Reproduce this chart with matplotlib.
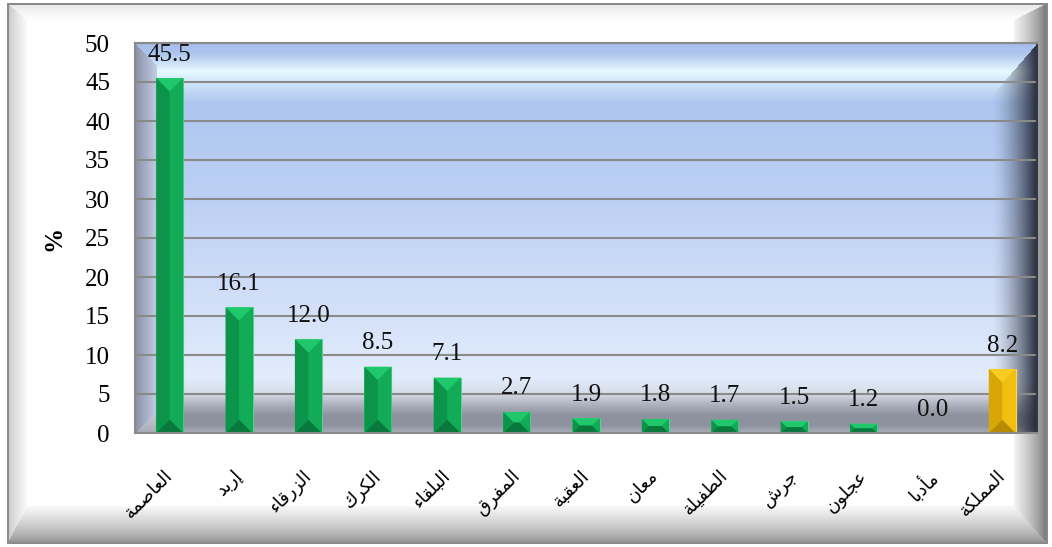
import numpy as np
import matplotlib
matplotlib.use("Agg")
import matplotlib.pyplot as plt
from matplotlib.patches import Polygon
from matplotlib.colors import to_rgb
from matplotlib.transforms import ScaledTranslation

governorates = ["العاصمة", "إربد", "الزرقاء", "الكرك", "البلقاء", "المفرق", "العقبة",
                "معان", "الطفيلة", "جرش", "عجلون", "مأدبا", "المملكة"]
shares = [45.5, 16.1, 12.0, 8.5, 7.1, 2.7, 1.9, 1.8, 1.7, 1.5, 1.2, 0.0, 8.2]
y_ticks = list(range(0, 51, 5))

W, H = 1052, 547

# isolated, final, initial, medial presentation forms
FORMS = {
    "ء": ("\uFE80", None, None, None),
    "أ": ("\uFE83", "\uFE84", None, None),
    "إ": ("\uFE87", "\uFE88", None, None),
    "ا": ("\uFE8D", "\uFE8E", None, None),
    "ب": ("\uFE8F", "\uFE90", "\uFE91", "\uFE92"),
    "ة": ("\uFE93", "\uFE94", None, None),
    "ج": ("\uFE9D", "\uFE9E", "\uFE9F", "\uFEA0"),
    "د": ("\uFEA9", "\uFEAA", None, None),
    "ر": ("\uFEAD", "\uFEAE", None, None),
    "ز": ("\uFEAF", "\uFEB0", None, None),
    "ش": ("\uFEB5", "\uFEB6", "\uFEB7", "\uFEB8"),
    "ص": ("\uFEB9", "\uFEBA", "\uFEBB", "\uFEBC"),
    "ط": ("\uFEC1", "\uFEC2", "\uFEC3", "\uFEC4"),
    "ع": ("\uFEC9", "\uFECA", "\uFECB", "\uFECC"),
    "ف": ("\uFED1", "\uFED2", "\uFED3", "\uFED4"),
    "ق": ("\uFED5", "\uFED6", "\uFED7", "\uFED8"),
    "ك": ("\uFED9", "\uFEDA", "\uFEDB", "\uFEDC"),
    "ل": ("\uFEDD", "\uFEDE", "\uFEDF", "\uFEE0"),
    "م": ("\uFEE1", "\uFEE2", "\uFEE3", "\uFEE4"),
    "ن": ("\uFEE5", "\uFEE6", "\uFEE7", "\uFEE8"),
    "و": ("\uFEED", "\uFEEE", None, None),
    "ي": ("\uFEF1", "\uFEF2", "\uFEF3", "\uFEF4"),
}
NONE4 = (None, None, None, None)


def shape_arabic(word):
    """Join letters into contextual forms and reverse for left-to-right layout."""
    out = []
    for k, ch in enumerate(word):
        forms = FORMS.get(ch)
        if forms is None:
            out.append(ch)
            continue
        prev = word[k - 1] if k > 0 else None
        nxt = word[k + 1] if k < len(word) - 1 else None
        join_prev = prev is not None and FORMS.get(prev, NONE4)[2] is not None and forms[1] is not None
        join_next = nxt is not None and forms[2] is not None and FORMS.get(nxt, NONE4)[1] is not None
        if join_prev and join_next:
            out.append(forms[3])
        elif join_prev:
            out.append(forms[1])
        elif join_next:
            out.append(forms[2])
        else:
            out.append(forms[0])
    return "".join(reversed(out))


def rgb(c):
    return np.array(to_rgb(c))


def frame_image():
    """White card with a bevelled grey border."""
    Y, X = np.mgrid[0:H, 0:W].astype(float)
    x0, x1, y0, y1 = 7, 1047, 3, 543
    dist = np.stack([(X - x0) / 20, (x1 - X) / 34, (Y - y0) / 17, (y1 - Y) / 38])
    side = np.argmin(dist, axis=0)
    t = np.clip(dist.min(axis=0), 0, 1)
    outer = ["#c0c0c0", "#686868", "#e2e2e2", "#888888"]
    inner = ["#fbfbfb", "#f6f6f6", "#ffffff", "#fafafa"]
    img = np.ones((H, W, 3))
    for s in range(4):
        m = (side == s) & (t < 1)
        c0, c1 = rgb(outer[s]), rgb(inner[s])
        img[m] = c0 + (c1 - c0) * (t[m] ** 0.7)[:, None]
    dpx = np.minimum.reduce([X - x0, x1 - X, Y - y0, y1 - Y])
    img[dpx < 0] = 1.0
    img[(dpx >= 0) & (dpx < 1.5)] = rgb("#8a8a8a")
    return img


def wall_image(w=902, h=390):
    """Back wall, side walls and floor of the plot box."""
    yy, xx = np.mgrid[0:h, 0:w].astype(float)
    stops_y = [0, 10, 28, 45, 60, 150, 250, 335, 350, 360, 372, 382, 390]
    stops_c = ["#a4bce8", "#aec6ee", "#e6faff", "#c6dcf8", "#aec6f0", "#bcd0f4", "#d0def8",
               "#e2ecfc", "#d6dce8", "#b2b6c2", "#8e929e", "#8e929e", "#b0b4be"]
    cols = np.array([to_rgb(c) for c in stops_c])
    col = np.stack([np.interp(np.arange(h), stops_y, cols[:, k]) for k in range(3)], axis=-1)
    img = np.repeat(col[:, None, :], w, axis=1)

    # left side wall
    left = (xx < 22) & (yy > xx) & (yy < h - xx)
    c0, c1 = rgb("#8a92a8"), rgb("#c4cee4")
    img[left] = c0 + (c1 - c0) * (xx[left] / 22)[:, None]
    lfloor = (xx < 22) & (yy >= h - xx)
    c0, c1 = rgb("#c8ccd4"), rgb("#a8acb6")
    img[lfloor] = c0 + (c1 - c0) * ((yy[lfloor] - (h - 22)) / 22)[:, None]

    # right side wall
    rx = w - xx
    right = (rx < 46) & (yy > rx * 1.15)
    tr = np.clip(1 - rx / 46, 0, 1) ** 1.5
    dark = rgb("#242a38")
    img[right] = img[right] * (1 - tr[right])[:, None] + dark * tr[right][:, None]
    return img


fig = plt.figure(figsize=(W / 100, H / 100), dpi=100)
bg = fig.add_axes([0, 0, 1, 1])
bg.imshow(frame_image(), aspect="auto", interpolation="bilinear")
bg.set_axis_off()

ax_l, ax_b, ax_w, ax_h = 135, 433, 902, 390
ax = fig.add_axes([ax_l / W, (H - ax_b) / H, ax_w / W, ax_h / H])
n = len(shares)
ax.imshow(wall_image(ax_w, ax_h), extent=(-0.5, n - 0.5, 0, 50), aspect="auto",
          interpolation="bilinear", zorder=0)
ax.set_xlim(-0.5, n - 0.5)
ax.set_ylim(0, 50)

ax.set_yticks(y_ticks)
ax.yaxis.grid(True, color="#8a8a8a", linewidth=1.5)
ax.set_axisbelow("line")

# bars with bevelled faces
x = np.arange(n)
bar_w = 0.39
px_x = ax_w / n
px_y = ax_h / 50.0
green = dict(base="#0fa452", top="#20c86c", left="#0c944a", right="#12ab58", bottom="#08783c", edge="#5cd08e")
gold = dict(base="#edb90c", top="#f8cc22", left="#d8a606", right="#f2be10", bottom="#b88c02", edge="#f8d860")
palettes = [green] * (n - 1) + [gold]

ax.bar(x, shares, bar_w, color=[p["base"] for p in palettes],
       edgecolor=[p["edge"] for p in palettes], linewidth=0.8, zorder=2)

for i, v in enumerate(shares):
    if v <= 0:
        continue
    p = palettes[i]
    x0, x1, y0, y1 = i - bar_w / 2, i + bar_w / 2, 0.0, v
    d = min(bar_w * px_x, v * px_y) / 2
    dx, dy = d / px_x, d / px_y
    xi0, xi1, yi0, yi1 = x0 + dx, x1 - dx, y0 + dy, y1 - dy
    faces = [
        ([(x0, y1), (x1, y1), (xi1, yi1), (xi0, yi1)], p["top"]),
        ([(x0, y0), (x1, y0), (xi1, yi0), (xi0, yi0)], p["bottom"]),
        ([(x0, y0), (xi0, yi0), (xi0, yi1), (x0, y1)], p["left"]),
        ([(x1, y0), (xi1, yi0), (xi1, yi1), (x1, y1)], p["right"]),
    ]
    for pts, c in faces:
        ax.add_patch(Polygon(pts, closed=True, facecolor=c, edgecolor="none", zorder=2.5))

for i, v in enumerate(shares):
    ax.annotate(f"{v:.1f}", (i, v), xytext=(0, 9), textcoords="offset points",
                ha="center", va="bottom", fontsize=18, family="Liberation Serif",
                color="#111111", zorder=4)

for side in ["top", "bottom", "left"]:
    ax.spines[side].set_color("#8a8a8a")
    ax.spines[side].set_linewidth(1.5)
ax.spines["right"].set_color("#303848")
ax.spines["right"].set_linewidth(1.5)

ax.tick_params(axis="both", length=0)
ax.tick_params(axis="y", pad=18, labelsize=18)
for lab in ax.get_yticklabels():
    lab.set_family("Liberation Serif")

ax.set_xticks(x)
ax.set_xticklabels([shape_arabic(g) for g in governorates], rotation=45, ha="right",
                   rotation_mode="anchor", fontsize=13, family="DejaVu Sans")
ax.tick_params(axis="x", pad=24)
shift = ScaledTranslation(-0.06, 0, fig.dpi_scale_trans)
for lab in ax.get_xticklabels():
    lab.set_transform(lab.get_transform() + shift)

ax.set_ylabel("%", fontsize=18, fontweight="bold", family="Liberation Serif", labelpad=14)

fig.savefig("out.png", dpi=100)
